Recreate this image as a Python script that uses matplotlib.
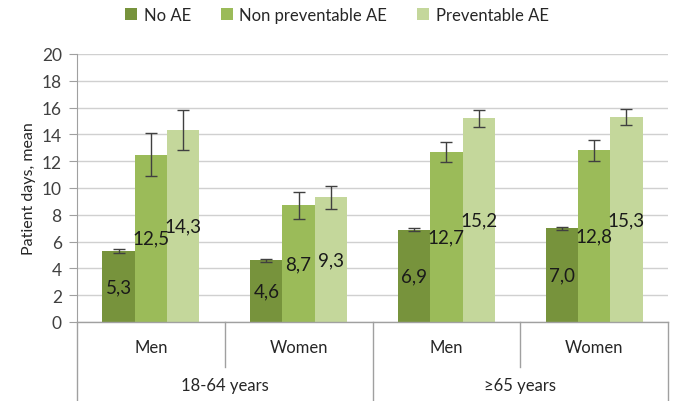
import matplotlib
matplotlib.use("Agg")
import matplotlib.pyplot as plt
import numpy as np
from matplotlib.patches import Patch

plt.rcParams['font.family'] = ['Lato', 'DejaVu Sans']

groups = ["Men", "Women", "Men", "Women"]
age_groups = ["18-64 years", "\u226565 years"]
series = ["No AE", "Non preventable AE", "Preventable AE"]
no_ae = [5.3, 4.6, 6.9, 7.0]
non_prev = [12.5, 8.7, 12.7, 12.8]
prev = [14.3, 9.3, 15.2, 15.3]
no_ae_err = [0.15, 0.1, 0.1, 0.1]
non_prev_err = [1.6, 1.0, 0.75, 0.75]
prev_err = [1.5, 0.85, 0.63, 0.63]
labels_no_ae = ["5,3", "4,6", "6,9", "7,0"]
labels_non_prev = ["12,5", "8,7", "12,7", "12,8"]
labels_prev = ["14,3", "9,3", "15,2", "15,3"]
yticks = list(range(0, 21, 2))

colors = ["#77933C", "#9BBB59", "#C4D79B"]

fig = plt.figure(figsize=(6.74, 4.02), dpi=100)
ax = fig.add_axes([77/674, 1-323/402, 591/674, 268/402])

x = np.arange(len(groups))
w = 0.219
vals = [no_ae, non_prev, prev]
errs = [no_ae_err, non_prev_err, prev_err]
labs = [labels_no_ae, labels_non_prev, labels_prev]
for i, (v, e, l, c) in enumerate(zip(vals, errs, labs, colors)):
    xs = x + (i - 1) * w
    ax.bar(xs, v, width=w, color=c, zorder=2)
    ax.errorbar(xs, v, yerr=e, fmt='none', ecolor='#404040', elinewidth=1,
                capsize=4, capthick=1, zorder=3)
    for xi, vi, li in zip(xs, v, l):
        ax.text(xi, vi / 2, li, ha='center', va='center', fontsize=13.5,
                color='#1a1a1a', zorder=4)

ax.set_ylim(0, 20)
ax.set_xlim(-0.5, 3.5)
ax.set_yticks(yticks)
ax.set_yticklabels([str(t) for t in yticks], fontsize=12.5, color='#404040')
ax.yaxis.grid(True, color='#d0d0d0', linewidth=1, zorder=0)
ax.set_axisbelow(True)
ax.tick_params(axis='y', length=6, color='#a0a0a0', pad=5)
ax.tick_params(axis='x', bottom=False, labelbottom=False)
for s in ['top', 'right', 'bottom']:
    ax.spines[s].set_visible(False)
ax.spines['left'].set_color('#a0a0a0')
ax.set_ylabel("Patient days, mean", fontsize=11.5, color='#262626', labelpad=4)

# hierarchical category axis
trans = ax.get_xaxis_transform()
ax.plot([-0.5, 3.5], [0, 0], color='#a0a0a0', lw=1, transform=trans, clip_on=False)
inner_y = -45/268
outer_y = -79/268
for xv in [-0.5, 1.5, 3.5]:
    ax.plot([xv, xv], [0, outer_y], color='#a0a0a0', lw=1, transform=trans, clip_on=False)
for xv in [0.5, 2.5]:
    ax.plot([xv, xv], [0, inner_y], color='#a0a0a0', lw=1, transform=trans, clip_on=False)
for xi, g in zip(x, groups):
    ax.text(xi, -25/268, g, ha='center', va='center', fontsize=12,
            color='#262626', transform=trans)
for k, a in enumerate(age_groups):
    ax.text(0.5 + 2 * k, -63/268, a, ha='center', va='center', fontsize=12,
            color='#262626', transform=trans)

handles = [Patch(facecolor=c, edgecolor='none') for c in colors]
fig.legend(handles, series, loc='center', bbox_to_anchor=(0.5, 1 - 16/402),
           ncol=3, frameon=False, fontsize=12, handlelength=0.7, handleheight=0.7,
           handletextpad=0.4, columnspacing=1.8)
for t in fig.legends[0].get_texts():
    t.set_color('#262626')

fig.savefig("out.png", dpi=100)
